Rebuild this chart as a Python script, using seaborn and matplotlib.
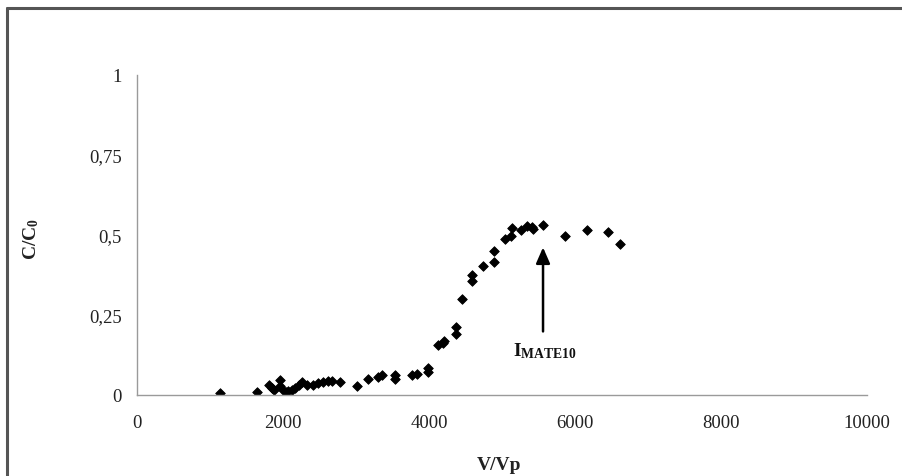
import matplotlib
matplotlib.use("Agg")
import matplotlib.pyplot as plt
from matplotlib.lines import Line2D
import seaborn as sns
import pandas as pd

# Data
v_vp = [1137, 1644, 1808, 1849, 1877, 1959, 1959, 2000, 2041, 2068, 2123, 2164,
        2219, 2260, 2329, 2411, 2479, 2548, 2616, 2671, 2781, 3014, 3164, 3301,
        3356, 3534, 3534, 3767, 3836, 3986, 3986, 4123, 4192, 4205, 4370, 4370,
        4452, 4589, 4589, 4740, 4890, 4890, 5041, 5123, 5137, 5260, 5342, 5411,
        5425, 5562, 5863, 6164, 6452, 6616]
c_c0 = [0.006, 0.009, 0.031, 0.022, 0.016, 0.047, 0.028, 0.016, 0.009, 0.013,
        0.016, 0.022, 0.031, 0.041, 0.031, 0.031, 0.038, 0.041, 0.044, 0.044,
        0.041, 0.028, 0.050, 0.056, 0.0625, 0.0625, 0.050, 0.0625, 0.066, 0.084,
        0.072, 0.156, 0.1625, 0.169, 0.2125, 0.191, 0.300, 0.375, 0.356, 0.403,
        0.416, 0.450, 0.4875, 0.497, 0.522, 0.516, 0.528, 0.525, 0.519, 0.531,
        0.497, 0.516, 0.509, 0.472]
x_ticks = [0, 2000, 4000, 6000, 8000, 10000]
y_ticks = [0, 0.25, 0.5, 0.75, 1]
y_tick_labels = ["0", "0,25", "0,5", "0,75", "1"]
annot_x = 5562
annot_label = r"$\mathbf{I_{MATE10}}$"

sns.set_theme(style="white")
plt.rcParams["font.family"] = ["Liberation Serif", "DejaVu Serif"]
plt.rcParams["mathtext.fontset"] = "custom"
plt.rcParams["mathtext.rm"] = "Liberation Serif"
plt.rcParams["mathtext.bf"] = "Liberation Serif:bold"
plt.rcParams["mathtext.it"] = "Liberation Serif:italic"

df = pd.DataFrame({"V/Vp": v_vp, "C/C0": c_c0})

fig = plt.figure(figsize=(9.02, 4.77), dpi=100)
ax = fig.add_axes([137/902, 1-396/477, (867-137)/902, (396-76)/477])

sns.scatterplot(data=df, x="V/Vp", y="C/C0", ax=ax, marker="D", s=24,
                color="black", edgecolor="black", linewidth=0.6, legend=False)

ax.set_xlim(0, 10000)
ax.set_ylim(0, 1)
ax.set_xticks(x_ticks)
ax.set_xticklabels([str(t) for t in x_ticks])
ax.set_yticks(y_ticks)
ax.set_yticklabels(y_tick_labels)

for side in ["top", "right"]:
    ax.spines[side].set_visible(False)
for side in ["left", "bottom"]:
    ax.spines[side].set_color("#9a9a9a")
    ax.spines[side].set_linewidth(1.0)

ax.tick_params(axis="both", which="major", direction="out", length=5, width=1,
               color="#9a9a9a", labelsize=13.5, labelcolor="#222222")
ax.tick_params(axis="x", pad=9)
ax.tick_params(axis="y", pad=6)

ax.set_xlabel("V/Vp", fontsize=14, fontweight="bold", color="#222222")
ax.set_ylabel(r"$\mathbf{C/C_0}$", fontsize=14, color="#222222")
ax.yaxis.set_label_coords(-0.131, 0.49)
ax.xaxis.set_label_coords(0.496, -0.19)

ax.annotate("", xy=(annot_x, 0.47), xytext=(annot_x, 0.19),
            arrowprops=dict(arrowstyle="-|>,head_width=0.35,head_length=0.8",
                            color="black", lw=1.8))
ax.text(annot_x + 30, 0.14, annot_label, fontsize=14, ha="center", va="center",
        color="#111111")

# outer frame (cropped picture border)
fig.add_artist(Line2D([7/902, 7/902], [0, 1 - 9/477], transform=fig.transFigure,
                      color="#555555", lw=2.2))
fig.add_artist(Line2D([7/902, 1], [1 - 9/477, 1 - 9/477], transform=fig.transFigure,
                      color="#555555", lw=2.2))

fig.savefig("out.png", dpi=100, facecolor="white")
